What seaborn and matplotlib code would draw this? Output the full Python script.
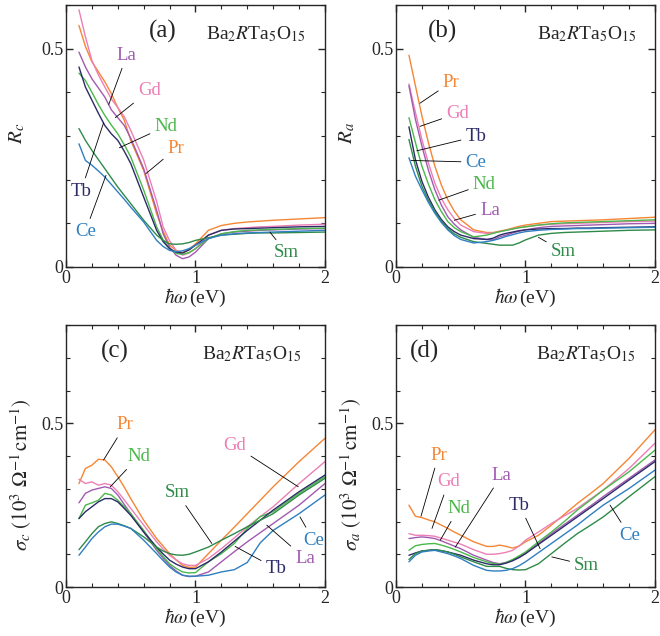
import numpy as np
import pandas as pd
import seaborn as sns
import matplotlib
matplotlib.use("Agg")
import matplotlib.pyplot as plt
from matplotlib.ticker import MultipleLocator, FuncFormatter

# ---- data -------------------------------------------------------------
energy = [0.10, 0.15, 0.20, 0.25, 0.30, 0.35, 0.40, 0.45, 0.50, 0.60, 0.70, 0.75,
          0.80, 0.85, 0.90, 0.95, 1.00, 1.10, 1.20, 1.30, 1.40, 1.50, 1.60, 1.80, 2.00]

# reflectivity, E // c
Rc_Pr = [0.553, 0.505, 0.470, 0.447, 0.424, 0.397, 0.365, 0.336, 0.290, 0.221, 0.122, 0.082, 0.050, 0.038, 0.033, 0.040, 0.053, 0.084, 0.095, 0.100, 0.103, 0.105, 0.107, 0.110, 0.113]
Rc_Gd = [0.589, 0.527, 0.473, 0.440, 0.412, 0.385, 0.365, 0.344, 0.313, 0.245, 0.150, 0.092, 0.060, 0.038, 0.027, 0.032, 0.042, 0.073, 0.084, 0.088, 0.090, 0.092, 0.093, 0.096, 0.098]
Rc_La = [0.492, 0.458, 0.431, 0.410, 0.389, 0.360, 0.342, 0.324, 0.295, 0.225, 0.130, 0.076, 0.045, 0.027, 0.019, 0.023, 0.034, 0.065, 0.076, 0.080, 0.082, 0.084, 0.085, 0.087, 0.088]
Rc_Nd = [0.444, 0.427, 0.400, 0.372, 0.347, 0.325, 0.305, 0.280, 0.252, 0.176, 0.092, 0.062, 0.042, 0.031, 0.029, 0.033, 0.042, 0.065, 0.076, 0.081, 0.084, 0.085, 0.086, 0.088, 0.089]
Rc_Tb = [0.458, 0.412, 0.382, 0.352, 0.324, 0.305, 0.290, 0.265, 0.237, 0.160, 0.084, 0.058, 0.042, 0.034, 0.032, 0.039, 0.050, 0.073, 0.084, 0.087, 0.088, 0.089, 0.090, 0.092, 0.093]
Rc_Sm = [0.317, 0.290, 0.267, 0.246, 0.225, 0.204, 0.183, 0.164, 0.145, 0.107, 0.073, 0.061, 0.053, 0.052, 0.053, 0.056, 0.061, 0.067, 0.073, 0.075, 0.077, 0.078, 0.078, 0.079, 0.080]
Rc_Ce = [0.282, 0.244, 0.233, 0.220, 0.206, 0.189, 0.172, 0.155, 0.137, 0.103, 0.061, 0.047, 0.038, 0.035, 0.037, 0.042, 0.050, 0.065, 0.073, 0.076, 0.078, 0.079, 0.080, 0.082, 0.084]

# reflectivity, E // a
Ra_Pr = [0.485, 0.415, 0.346, 0.285, 0.231, 0.188, 0.154, 0.128, 0.108, 0.085, 0.079, 0.079, 0.082, 0.085, 0.089, 0.093, 0.096, 0.100, 0.104, 0.105, 0.106, 0.107, 0.108, 0.111, 0.114]
Ra_Gd = [0.419, 0.354, 0.292, 0.238, 0.192, 0.157, 0.131, 0.111, 0.096, 0.081, 0.077, 0.078, 0.081, 0.084, 0.087, 0.090, 0.092, 0.096, 0.098, 0.099, 0.100, 0.101, 0.102, 0.104, 0.105]
Ra_La = [0.415, 0.338, 0.277, 0.222, 0.177, 0.142, 0.115, 0.098, 0.085, 0.068, 0.063, 0.062, 0.069, 0.073, 0.078, 0.082, 0.085, 0.090, 0.093, 0.094, 0.095, 0.096, 0.097, 0.099, 0.100]
Ra_Nd = [0.342, 0.285, 0.231, 0.190, 0.154, 0.127, 0.104, 0.090, 0.081, 0.069, 0.073, 0.077, 0.081, 0.084, 0.087, 0.090, 0.092, 0.096, 0.099, 0.101, 0.102, 0.103, 0.104, 0.106, 0.108]
Ra_Tb = [0.321, 0.246, 0.196, 0.160, 0.131, 0.109, 0.092, 0.081, 0.073, 0.065, 0.063, 0.066, 0.073, 0.077, 0.080, 0.083, 0.085, 0.087, 0.088, 0.088, 0.089, 0.089, 0.090, 0.091, 0.092]
Ra_Sm = [0.292, 0.231, 0.185, 0.153, 0.127, 0.105, 0.088, 0.076, 0.068, 0.058, 0.054, 0.052, 0.050, 0.050, 0.050, 0.055, 0.062, 0.073, 0.077, 0.079, 0.080, 0.081, 0.082, 0.084, 0.085]
Ra_Ce = [0.250, 0.208, 0.177, 0.148, 0.123, 0.102, 0.085, 0.072, 0.063, 0.055, 0.058, 0.061, 0.065, 0.070, 0.074, 0.078, 0.081, 0.084, 0.086, 0.087, 0.088, 0.088, 0.089, 0.090, 0.091]

# optical conductivity (10^3 Ohm^-1 cm^-1), E // c
Sc_Pr = [0.316, 0.362, 0.372, 0.390, 0.388, 0.367, 0.337, 0.305, 0.270, 0.204, 0.148, 0.125, 0.102, 0.083, 0.066, 0.060, 0.061, 0.102, 0.143, 0.183, 0.224, 0.265, 0.306, 0.383, 0.454]
Sc_Gd = [0.329, 0.316, 0.321, 0.311, 0.316, 0.311, 0.291, 0.266, 0.240, 0.189, 0.138, 0.116, 0.097, 0.083, 0.071, 0.066, 0.066, 0.087, 0.117, 0.150, 0.184, 0.215, 0.245, 0.316, 0.383]
Sc_La = [0.257, 0.286, 0.296, 0.301, 0.306, 0.301, 0.281, 0.252, 0.224, 0.168, 0.112, 0.088, 0.066, 0.049, 0.036, 0.032, 0.033, 0.046, 0.077, 0.108, 0.138, 0.166, 0.194, 0.250, 0.316]
Sc_Nd = [0.209, 0.250, 0.257, 0.265, 0.286, 0.281, 0.265, 0.245, 0.224, 0.173, 0.117, 0.093, 0.071, 0.057, 0.046, 0.043, 0.044, 0.077, 0.102, 0.133, 0.179, 0.215, 0.230, 0.286, 0.337]
Sc_Tb = [0.209, 0.230, 0.245, 0.260, 0.270, 0.270, 0.260, 0.240, 0.219, 0.168, 0.122, 0.101, 0.082, 0.070, 0.061, 0.056, 0.056, 0.077, 0.107, 0.140, 0.173, 0.204, 0.235, 0.291, 0.342]
Sc_Sm = [0.114, 0.138, 0.163, 0.184, 0.194, 0.199, 0.194, 0.187, 0.179, 0.153, 0.122, 0.110, 0.102, 0.098, 0.097, 0.100, 0.107, 0.122, 0.143, 0.163, 0.184, 0.204, 0.224, 0.281, 0.332]
Sc_Ce = [0.097, 0.122, 0.148, 0.168, 0.184, 0.192, 0.192, 0.186, 0.179, 0.143, 0.102, 0.081, 0.061, 0.046, 0.036, 0.033, 0.033, 0.036, 0.046, 0.053, 0.075, 0.135, 0.173, 0.224, 0.281]

# optical conductivity (10^3 Ohm^-1 cm^-1), E // a
Sa_Pr = [0.250, 0.216, 0.212, 0.205, 0.199, 0.189, 0.179, 0.168, 0.158, 0.138, 0.124, 0.124, 0.128, 0.124, 0.119, 0.125, 0.138, 0.158, 0.189, 0.222, 0.255, 0.285, 0.316, 0.393, 0.480]
Sa_Gd = [0.163, 0.158, 0.158, 0.157, 0.155, 0.149, 0.143, 0.137, 0.131, 0.114, 0.100, 0.100, 0.102, 0.106, 0.112, 0.125, 0.143, 0.168, 0.194, 0.217, 0.240, 0.268, 0.296, 0.362, 0.439]
Sa_La = [0.148, 0.151, 0.153, 0.151, 0.148, 0.141, 0.133, 0.125, 0.117, 0.097, 0.082, 0.075, 0.071, 0.075, 0.082, 0.090, 0.102, 0.133, 0.163, 0.191, 0.219, 0.247, 0.276, 0.332, 0.388]
Sa_Nd = [0.112, 0.126, 0.130, 0.132, 0.133, 0.128, 0.122, 0.115, 0.107, 0.090, 0.077, 0.072, 0.069, 0.075, 0.084, 0.095, 0.107, 0.138, 0.168, 0.200, 0.235, 0.265, 0.296, 0.352, 0.418]
Sa_Tb = [0.097, 0.104, 0.110, 0.112, 0.114, 0.111, 0.107, 0.102, 0.097, 0.082, 0.071, 0.068, 0.068, 0.073, 0.080, 0.090, 0.102, 0.130, 0.158, 0.186, 0.214, 0.242, 0.270, 0.327, 0.383]
Sa_Sm = [0.084, 0.102, 0.110, 0.112, 0.114, 0.111, 0.107, 0.100, 0.092, 0.077, 0.063, 0.063, 0.063, 0.057, 0.053, 0.052, 0.053, 0.071, 0.102, 0.133, 0.163, 0.188, 0.214, 0.276, 0.337]
Sa_Ce = [0.077, 0.097, 0.107, 0.110, 0.112, 0.107, 0.102, 0.095, 0.087, 0.066, 0.051, 0.049, 0.049, 0.051, 0.056, 0.065, 0.077, 0.105, 0.133, 0.161, 0.189, 0.220, 0.250, 0.301, 0.357]

colors = {"Pr": "#f58634", "Gd": "#ec7fb6", "La": "#a15bb0", "Nd": "#4ab84a",
          "Tb": "#2c2b68", "Sm": "#2e8a48", "Ce": "#2f7fc1"}

# label text position, leader end point on curve
labels_a = {"La": ((0.47, 0.485), (0.33, 0.372)),
            "Gd": ((0.643, 0.404), (0.381, 0.342)),
            "Nd": ((0.772, 0.322), (0.412, 0.273)),
            "Pr": ((0.849, 0.271), (0.618, 0.214)),
            "Tb": ((0.116, 0.174), (0.29, 0.33)),
            "Ce": ((0.149, 0.081), (0.309, 0.21)),
            "Sm": ((1.70, 0.033), (1.575, 0.080))}
labels_b = {"Pr": ((0.425, 0.423), (0.185, 0.375)),
            "Gd": ((0.476, 0.352), (0.185, 0.322)),
            "Tb": ((0.618, 0.299), (0.16, 0.266)),
            "Ce": ((0.618, 0.240), (0.116, 0.244)),
            "Nd": ((0.682, 0.190), (0.33, 0.153)),
            "La": ((0.726, 0.130), (0.45, 0.107)),
            "Sm": ((1.292, 0.035), (1.10, 0.068))}
labels_c = {"Pr": ((0.458, 0.495), (0.29, 0.388)),
            "Nd": ((0.56, 0.398), (0.342, 0.306)),
            "Sm": ((0.856, 0.288), (1.126, 0.133)),
            "Gd": ((1.306, 0.431), (1.794, 0.306)),
            "Tb": ((1.622, 0.056), (1.306, 0.124)),
            "La": ((1.846, 0.087), (1.55, 0.189)),
            "Ce": ((1.91, 0.143), (1.807, 0.214))}
labels_d = {"Pr": ((0.329, 0.403), (0.193, 0.216)),
            "Gd": ((0.406, 0.321), (0.278, 0.179)),
            "Nd": ((0.483, 0.240), (0.342, 0.143)),
            "La": ((0.817, 0.342), (0.458, 0.122)),
            "Tb": ((0.954, 0.250), (1.113, 0.117)),
            "Ce": ((1.802, 0.158), (1.653, 0.25)),
            "Sm": ((1.473, 0.066), (1.203, 0.092))}

# ---- style ------------------------------------------------------------
sns.set_style("ticks")
plt.rcParams["font.family"] = ["Liberation Serif", "DejaVu Serif"]
plt.rcParams["mathtext.fontset"] = "stix"
plt.rcParams["xtick.direction"] = "in"
plt.rcParams["ytick.direction"] = "in"
plt.rcParams["axes.linewidth"] = 1.0


def long_frame(series):
    rows = []
    for el, vals in series.items():
        for e, v in zip(energy, vals):
            rows.append((e, v, el))
    return pd.DataFrame(rows, columns=["energy", "value", "R"])


def draw(ax, series, ylim, ylabel, ylab_x, ylab_y, tag, tag_x, formula_x, labels):
    df = long_frame(series)
    sns.lineplot(data=df, x="energy", y="value", hue="R", palette=colors,
                 estimator=None, sort=False, legend=False, lw=1.0, ax=ax)
    ax.set_xlim(0, 2)
    ax.set_ylim(*ylim)
    ax.xaxis.set_major_locator(MultipleLocator(1))
    ax.xaxis.set_minor_locator(MultipleLocator(0.2))
    ax.yaxis.set_major_locator(MultipleLocator(0.5))
    ax.yaxis.set_minor_locator(MultipleLocator(0.1))
    fmt = FuncFormatter(lambda v, p: f"{v:g}")
    ax.xaxis.set_major_formatter(fmt)
    ax.yaxis.set_major_formatter(fmt)
    ax.tick_params(which="both", top=True, right=True, labelsize=13, pad=2)
    ax.tick_params(which="major", length=5, width=1.0)
    ax.tick_params(which="minor", length=3, width=0.8)
    ax.set_xlabel(r"$\hbar\omega\,$(eV)", fontsize=14, labelpad=0)
    ax.set_ylabel(ylabel, fontsize=15)
    ax.yaxis.set_label_coords(ylab_x, ylab_y)
    ax.text(tag_x, 0.898, tag, transform=ax.transAxes, ha="center",
            va="center", fontsize=18)
    ax.text(formula_x, 0.89, r"Ba$_2$$R$Ta$_5$O$_{15}$", transform=ax.transAxes,
            ha="right", va="center", fontsize=14)
    for el, (txt, end) in labels.items():
        ax.annotate(el, xy=end, xytext=txt, ha="center", va="center",
                    color=colors[el], fontsize=13.5,
                    arrowprops=dict(arrowstyle="-", color="black", lw=0.6,
                                    shrinkA=1, shrinkB=0))


fig = plt.figure(figsize=(6.6, 6.36), dpi=100)
ax_a = fig.add_axes([0.100, 0.5802, 0.3924, 0.412])
ax_b = fig.add_axes([0.600, 0.5802, 0.3924, 0.412])
ax_c = fig.add_axes([0.100, 0.0770, 0.3924, 0.412])
ax_d = fig.add_axes([0.600, 0.0770, 0.3924, 0.412])

sigma_unit = r"\ (10^3\ \Omega^{-1}\,\mathrm{cm}^{-1})$"

draw(ax_a, {"Pr": Rc_Pr, "Gd": Rc_Gd, "La": Rc_La, "Nd": Rc_Nd, "Tb": Rc_Tb,
            "Sm": Rc_Sm, "Ce": Rc_Ce}, (0, 0.6), r"$R_c$", -0.15, 0.51,
     "(a)", 0.375, 0.923, labels_a)
draw(ax_b, {"Pr": Ra_Pr, "Gd": Ra_Gd, "La": Ra_La, "Nd": Ra_Nd, "Tb": Ra_Tb,
            "Sm": Ra_Sm, "Ce": Ra_Ce}, (0, 0.6), r"$R_a$", -0.15, 0.51,
     "(b)", 0.18, 0.927, labels_b)
draw(ax_c, {"Pr": Sc_Pr, "Gd": Sc_Gd, "La": Sc_La, "Nd": Sc_Nd, "Tb": Sc_Tb,
            "Sm": Sc_Sm, "Ce": Sc_Ce}, (0, 0.8), r"$\sigma_c" + sigma_unit,
     -0.125, 0.43, "(c)", 0.19, 0.91, labels_c)
draw(ax_d, {"Pr": Sa_Pr, "Gd": Sa_Gd, "La": Sa_La, "Nd": Sa_Nd, "Tb": Sa_Tb,
            "Sm": Sa_Sm, "Ce": Sa_Ce}, (0, 0.8), r"$\sigma_a" + sigma_unit,
     -0.125, 0.43, "(d)", 0.11, 0.923, labels_d)

fig.savefig("out.png", dpi=100)
